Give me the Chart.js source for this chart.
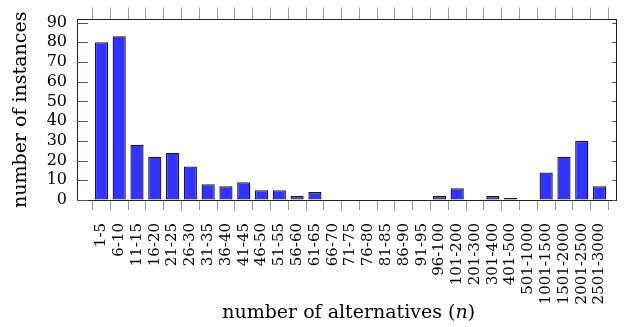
<!DOCTYPE html>
<html>
<head>
<meta charset="utf-8">
<script src="https://cdn.jsdelivr.net/npm/chart.js@4.4.1/dist/chart.umd.min.js"></script>
<style>
  html, body { margin: 0; padding: 0; background: #fff; }
  #wrap { width: 631px; height: 327px; }
</style>
</head>
<body>
<div id="wrap"><canvas id="c" width="631" height="327"></canvas></div>
<script>
const categories = ["1-5","6-10","11-15","16-20","21-25","26-30","31-35","36-40","41-45","46-50","51-55","56-60","61-65","66-70","71-75","76-80","81-85","86-90","91-95","96-100","101-200","201-300","301-400","401-500","501-1000","1001-1500","1501-2000","2001-2500","2501-3000"];
const instances = [80, 83, 28, 22, 24, 17, 8, 7, 9, 5, 5, 2, 4, 0, 0, 0, 0, 0, 0, 2, 6, 0, 2, 1, 0, 14, 22, 30, 7];
const yTicks = [0, 10, 20, 30, 40, 50, 60, 70, 80, 90];
const xTitlePre = "number of alternatives (";
const xTitleVar = "n";
const xTitlePost = ")";
const yTitle = "number of instances";

const FONT = "'DejaVu Serif', serif";
const TITLE_SIZE = 19;

const innerTicks = {
  id: 'innerTicks',
  beforeDatasetsDraw(chart) {
    const ctx = chart.ctx, a = chart.chartArea, y = chart.scales.y;
    ctx.save();
    ctx.strokeStyle = '#555';
    ctx.lineWidth = 1;
    yTicks.forEach(v => {
      const py = Math.round(y.getPixelForValue(v)) + 0.5;
      ctx.beginPath();
      ctx.moveTo(a.left, py); ctx.lineTo(a.left + 11, py);
      ctx.moveTo(a.right, py); ctx.lineTo(a.right - 4, py);
      ctx.stroke();
    });
    ctx.restore();
  },
  afterDraw(chart) {
    const ctx = chart.ctx, a = chart.chartArea;
    ctx.save();
    ctx.fillStyle = '#000';
    const f = TITLE_SIZE + "px " + FONT;
    const fi = "italic " + TITLE_SIZE + "px " + FONT;
    const cx = (a.left + a.right) / 2 + 2;
    ctx.font = f;
    const w1 = ctx.measureText(xTitlePre).width;
    ctx.font = fi;
    const w2 = ctx.measureText(xTitleVar).width;
    ctx.font = f;
    const w3 = ctx.measureText(xTitlePost).width;
    const x0 = cx - (w1 + w2 + w3) / 2;
    const by = 318;
    ctx.textAlign = 'left';
    ctx.textBaseline = 'alphabetic';
    ctx.fillText(xTitlePre, x0, by);
    ctx.font = fi;
    ctx.fillText(xTitleVar, x0 + w1, by);
    ctx.font = f;
    ctx.fillText(xTitlePost, x0 + w1 + w2, by);
    ctx.restore();
  }
};

new Chart(document.getElementById('c'), {
  type: 'bar',
  data: {
    datasets: [{
      data: instances.map((v, i) => ({ x: i, y: v })),
      backgroundColor: '#3333ff',
      borderColor: '#141440',
      borderWidth: 1.3,
      borderSkipped: false,
      barPercentage: 0.74,
      categoryPercentage: 1.0
    }]
  },
  options: {
    responsive: false,
    animation: false,
    devicePixelRatio: 1,
    layout: { padding: { left: 0, right: 0, top: 0, bottom: 0 } },
    plugins: { legend: { display: false }, tooltip: { enabled: false }, title: { display: false } },
    scales: {
      x: {
        type: 'linear',
        position: 'bottom',
        min: -0.85,
        max: 28.42,
        afterBuildTicks: s => { s.ticks = categories.map((_, i) => ({ value: i })); },
        afterFit: s => { s.height = 127; },
        ticks: {
          autoSkip: false,
          minRotation: 90,
          maxRotation: 90,
          padding: 13,
          color: '#000',
          font: { family: FONT, size: 15 },
          callback: v => categories[v]
        },
        grid: { drawOnChartArea: false, drawTicks: true, tickLength: 10, color: '#999', lineWidth: 1 },
        border: { display: true, color: '#222', width: 1 }
      },
      xTop: {
        type: 'linear',
        position: 'top',
        min: -0.85,
        max: 28.42,
        afterBuildTicks: s => { s.ticks = categories.map((_, i) => ({ value: i })); },
        afterFit: s => { s.height = 17; },
        ticks: { display: false },
        grid: { drawOnChartArea: false, drawTicks: true, tickLength: 12, color: '#999', lineWidth: 1 },
        border: { display: true, color: '#222', width: 1 }
      },
      y: {
        type: 'linear',
        position: 'left',
        min: 0,
        max: 91.5,
        afterBuildTicks: s => { s.ticks = yTicks.map(v => ({ value: v })); },
        afterFit: s => { s.width = 77; },
        ticks: { autoSkip: false, padding: 10, color: '#000', font: { family: FONT, size: 16 } },
        grid: { display: true, drawOnChartArea: false, drawTicks: false },
        border: { display: true, color: '#222', width: 1 },
        title: { display: true, text: yTitle, color: '#000', font: { family: FONT, size: TITLE_SIZE }, padding: { top: 10, bottom: 0 } }
      },
      yRight: {
        type: 'linear',
        position: 'right',
        min: 0,
        max: 91.5,
        afterFit: s => { s.width = 1; },
        ticks: { display: false },
        grid: { display: true, drawOnChartArea: false, drawTicks: false },
        border: { display: true, color: '#222', width: 1 }
      }
    }
  },
  plugins: [innerTicks]
});
</script>
</body>
</html>
